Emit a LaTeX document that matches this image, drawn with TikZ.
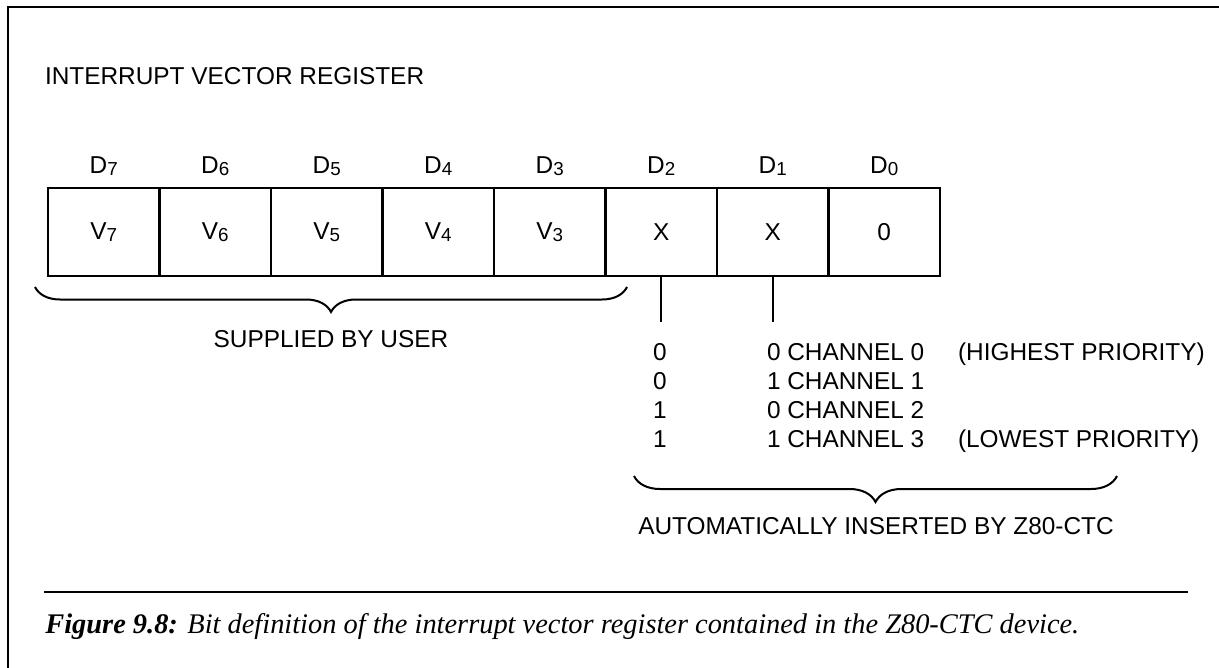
\documentclass[tikz,border=0pt]{standalone}
\usepackage{fontspec}
\setmainfont{Liberation Sans}
\newfontfamily\capfont{Liberation Serif}
\usetikzlibrary{decorations.pathreplacing}

\newcommand{\bitno}[1]{{\fontsize{9.4}{10}\selectfont\raisebox{-0.7pt}{#1}}}

\tikzset{
  lbl/.style={font=\fontsize{12.2}{14}\selectfont, inner sep=0pt, outer sep=0pt},
  bitcell/.style={draw, line width=1.4pt, minimum width=55.75pt, minimum height=44pt,
    inner sep=0pt, outer sep=0pt, font=\fontsize{12.2}{14}\selectfont},
  ubrace/.style={decorate, decoration={brace, mirror, amplitude=#1}, line width=1pt},
}

\begin{document}
\begin{tikzpicture}[x=0.5pt,y=-0.5pt]
    \useasboundingbox (0,0) rectangle (1219,668);

    % Frame of the figure
    \draw[line width=1.2pt] (8,668) -- (8,7) -- (1219,7);

    \node[lbl, anchor=base west] (title) at (45,85) {INTERRUPT VECTOR REGISTER};

    % Register cells and bit names
    \foreach \i/\val in {7/V\bitno{7},6/V\bitno{6},5/V\bitno{5},4/V\bitno{4},
                         3/V\bitno{3},2/X,1/X,0/0} {
      \node[bitcell] (c\i) at ({103.75+111.5*(7-\i)},232) {\val};
      \node[lbl, anchor=base] (d\i) at ({103.75+111.5*(7-\i)},174) {D\bitno{\i}};
    }

    % Upper bits
    \coordinate (ul) at (35,287);
    \coordinate (ur) at (627,287);
    \draw[ubrace=12.5pt] (ul) -- (ur);
    \node[lbl, anchor=base] (user) at (331,347) {SUPPLIED BY USER};

    % Lines down from D2 and D1
    \path (c2.south) ++(0,46) coordinate (e2);
    \path (c1.south) ++(0,46) coordinate (e1);
    \draw[line width=1pt] (c2.south) -- (e2);
    \draw[line width=1pt] (c1.south) -- (e1);

    % Channel codes
    \foreach \a/\b/\n/\y in {0/0/0/360,0/1/1/389,1/0/2/418,1/1/3/447} {
      \node[lbl, anchor=base] (ra\n) at (660,\y) {\a};
      \node[lbl, anchor=base west] (rb\n) at (767,\y) {\b\ CHANNEL \n};
    }
    \node[lbl, anchor=base west] (hi) at (958,360) {(HIGHEST PRIORITY)};
    \node[lbl, anchor=base west] (lo) at (958,447) {(LOWEST PRIORITY)};

    \coordinate (al) at (634,476);
    \coordinate (ar) at (1117,476);
    \draw[ubrace=13pt] (al) -- (ar);
    \node[lbl, anchor=base] (auto) at (876,534) {AUTOMATICALLY INSERTED BY Z80-CTC};

    % Caption
    \draw[line width=1pt] (44,592) -- (1188,592);
    \node[anchor=base west, inner sep=0pt, font=\capfont\itshape\fontsize{14.2}{16}\selectfont]
      (cap) at (45,633) {\textbf{Figure 9.8:} Bit definition of the interrupt vector register contained in the Z80-CTC device.};
  \end{tikzpicture}
\end{document}
